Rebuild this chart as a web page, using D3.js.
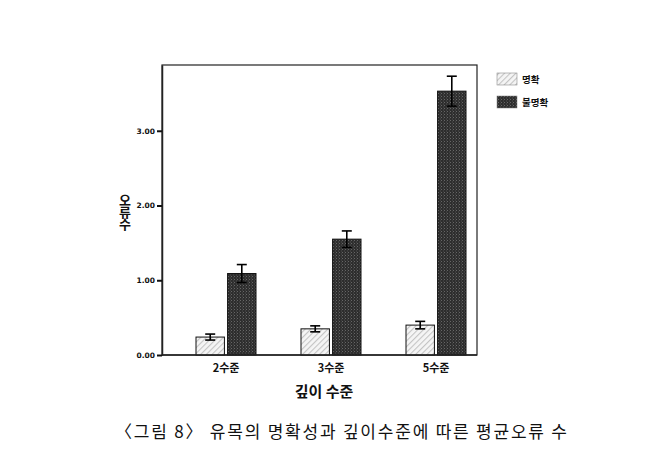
<!DOCTYPE html>
<html><head><meta charset="utf-8">
<script src="https://cdn.jsdelivr.net/npm/d3@7"></script>
<style>body{margin:0;background:#fff;} svg{display:block;}</style>
</head><body>
<svg id="c" width="650" height="470"></svg>
<script>
const categories = ["2수준", "3수준", "5수준"];
const seriesNames = ["명확", "불명확"];
const clearMeans = [0.24, 0.35, 0.40];
const clearErr = [0.04, 0.04, 0.05];
const unclearMeans = [1.09, 1.55, 3.53];
const unclearErr = [0.12, 0.11, 0.20];
const yTicks = [0, 1, 2, 3];
const yTickLabels = ["0.00", "1.00", "2.00", "3.00"];
const yTitle = "오류수";
const xTitle = "깊이 수준";
const caption = "〈그림 8〉 유목의 명확성과 깊이수준에 따른 평균오류 수";

const svg = d3.select("#c");
const frame = {left: 162, right: 477, top: 65, bottom: 355};
const y = d3.scaleLinear().domain([0, 3.88]).range([frame.bottom, frame.top]);
const x = d3.scaleBand().domain(categories).range([173.5, 488.5]).padding(0);
const xs = d3.scaleBand().domain(seriesNames).range([-30, 30]).paddingInner(0.1);

const defs = svg.append("defs");
const pl = defs.append("pattern").attr("id","plight").attr("patternUnits","userSpaceOnUse")
  .attr("width",4).attr("height",4).attr("patternTransform","rotate(45)");
pl.append("rect").attr("width",4).attr("height",4).attr("fill","#f5f5f5");
pl.append("rect").attr("width",1.1).attr("height",4).attr("fill","#c4c4c4");
const pd = defs.append("pattern").attr("id","pdark").attr("patternUnits","userSpaceOnUse")
  .attr("width",3).attr("height",3);
pd.append("rect").attr("width",3).attr("height",3).attr("fill","#2e2e2e");
pd.append("rect").attr("x",0).attr("y",0).attr("width",1).attr("height",1).attr("fill","#666");
pd.append("rect").attr("x",2).attr("y",1.5).attr("width",1).attr("height",1).attr("fill","#505050");

// frame
svg.append("rect").attr("x",frame.left).attr("y",frame.top)
  .attr("width",frame.right-frame.left).attr("height",frame.bottom-frame.top)
  .attr("fill","none").attr("stroke","#222").attr("stroke-width",1.2);

const series = [
  {name: seriesNames[0], means: clearMeans, errs: clearErr, fill: "url(#plight)"},
  {name: seriesNames[1], means: unclearMeans, errs: unclearErr, fill: "url(#pdark)"}
];

series.forEach(s => {
  const g = svg.append("g");
  categories.forEach((c, i) => {
    const cx = x(c) + x.bandwidth()/2;
    const bx = cx + xs(s.name);
    g.append("rect").attr("x", bx).attr("y", y(s.means[i]))
      .attr("width", xs.bandwidth()).attr("height", y(0) - y(s.means[i]))
      .attr("fill", s.fill).attr("stroke","#111").attr("stroke-width",1);
    const ex = bx + xs.bandwidth()/2;
    const lo = s.means[i] - s.errs[i], hi = s.means[i] + s.errs[i];
    g.append("line").attr("x1",ex).attr("x2",ex).attr("y1",y(lo)).attr("y2",y(hi))
      .attr("stroke","#000").attr("stroke-width",1.6);
    [lo, hi].forEach(v => g.append("line").attr("x1",ex-5).attr("x2",ex+5)
      .attr("y1",y(v)).attr("y2",y(v)).attr("stroke","#000").attr("stroke-width",1.6));
  });
});

// y axis
const yAxis = d3.axisLeft(y).tickValues(yTicks).tickSizeInner(5).tickSizeOuter(0).tickPadding(2)
  .tickFormat((d,i) => yTickLabels[i]);
const ya = svg.append("g").attr("transform",`translate(${frame.left},0)`).call(yAxis);
ya.select(".domain").attr("stroke","#222").attr("stroke-width",1.5);
ya.selectAll(".tick line").attr("stroke","#111").attr("stroke-width",2);
ya.selectAll(".tick text").attr("font-family","DejaVu Sans").attr("font-size",7.5)
  .attr("font-weight","bold").attr("fill","#111");

// x axis
const xAxis = d3.axisBottom(x).tickSize(0).tickPadding(9);
const xa = svg.append("g").attr("transform",`translate(0,${frame.bottom})`).call(xAxis);
xa.select(".domain").remove();
xa.selectAll(".tick text").attr("font-family","Noto Sans CJK KR").attr("font-size",11)
  .attr("font-weight","bold").attr("fill","#111");
svg.append("line").attr("x1",frame.left).attr("x2",frame.right).attr("y1",frame.bottom).attr("y2",frame.bottom)
  .attr("stroke","#222").attr("stroke-width",1.5);

// titles
svg.append("text").attr("x",324).attr("y",397).attr("text-anchor","middle")
  .attr("font-family","Noto Sans CJK KR").attr("font-size",15).attr("font-weight","bold")
  .attr("fill","#111").text(xTitle);
svg.append("text").attr("x",125).attr("y",212).attr("text-anchor","middle")
  .style("writing-mode","vertical-rl").style("text-orientation","upright")
  .attr("letter-spacing",-1)
  .attr("font-family","Noto Sans CJK KR").attr("font-size",13).attr("font-weight","bold")
  .attr("fill","#111").text(yTitle);

// legend
const leg = svg.append("g");
series.forEach((s, i) => {
  const ly = 73 + i*23;
  leg.append("rect").attr("x",497).attr("y",ly).attr("width",20).attr("height",12)
    .attr("fill", s.fill).attr("stroke","#777").attr("stroke-width",0.5);
  leg.append("text").attr("x",522).attr("y",ly+10).attr("font-family","Noto Sans CJK KR")
    .attr("font-size",9.5).attr("font-weight","bold").attr("fill","#111").text(s.name);
});

// caption
svg.append("text").attr("x",115).attr("y",438).attr("font-family","Noto Sans CJK KR")
  .attr("font-size",17).attr("fill","#111").attr("textLength",452).attr("lengthAdjust","spacing")
  .text(caption);
</script>
</body></html>
